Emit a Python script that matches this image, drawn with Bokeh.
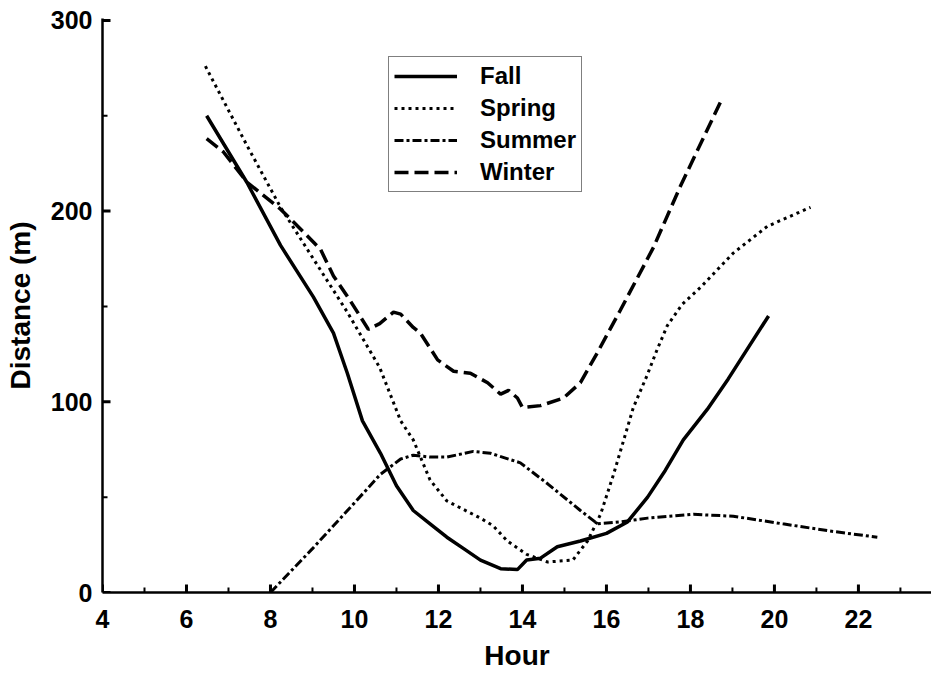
import math
from bokeh.plotting import figure
from bokeh.models import FixedTicker, Legend, LegendItem, Range1d
from bokeh.embed import file_html
from bokeh.resources import INLINE

# ---- data ----
fall_x = [6.48, 7.44, 8.24, 9.02, 9.5, 9.83, 10.19, 10.62, 11.0, 11.4, 11.8, 12.2, 12.6, 13.0,
          13.48, 13.88, 14.1, 14.43, 14.83, 15.38, 16.0, 16.5, 16.98, 17.4, 17.83, 18.4, 18.9, 19.86]
fall_y = [250, 215, 182, 155, 136, 115, 90, 73, 56, 43, 36, 29, 23, 17,
          12.5, 12, 17, 18, 24, 27, 31, 37, 50, 64, 80, 96, 112, 145]

spring_x = [6.45, 6.64, 7.45, 8.24, 9.02, 9.83, 10.6, 11.1, 11.4, 11.8, 12.2, 13.0, 13.3, 13.64,
            14.1, 14.6, 15.2, 15.55, 15.86, 16.17, 16.64, 16.97, 17.2, 17.45, 17.8, 18.24,
            19.02, 19.83, 20.86]
spring_y = [276, 268, 234, 202, 175, 147, 118, 90, 80, 59, 48, 39, 35, 27,
            20, 16, 17, 27, 41, 62, 97, 114, 127, 140, 151, 160,
            178, 192, 202]

summer_x = [8.0, 9.0, 10.0, 10.62, 11.1, 11.4, 11.8, 12.2, 12.83, 13.24, 13.95, 14.6, 15.38,
            15.79, 16.33, 16.98, 18.07, 19.02, 20.2, 21.4, 22.45]
summer_y = [0, 23, 47, 62, 70, 72, 71, 71, 74, 73, 68, 57, 43,
            36, 37, 39, 41, 40, 36, 32, 29]

winter_x = [6.48, 6.88, 7.45, 8.24, 8.79, 9.19, 9.5, 9.9, 10.33, 10.6, 10.93, 11.1, 11.4, 11.57,
            11.98, 12.36, 12.76, 13.17, 13.48, 13.67, 13.88, 14.0, 14.43, 14.98, 15.38, 15.79,
            16.33, 17.12, 17.76, 18.71]
winter_y = [238, 231, 215, 201, 189, 180, 166, 153, 138, 141, 147, 146, 139, 136,
            122, 116, 115, 110, 104, 106, 102, 97, 98, 102, 110, 126,
            148, 181, 213, 257]

x_ticks = [4, 6, 8, 10, 12, 14, 16, 18, 20, 22]
x_minor = [5, 7, 9, 11, 13, 15, 17, 19, 21, 23]
y_ticks = [0, 100, 200, 300]
y_minor = [50, 150, 250]

FONT = "Liberation Sans"
X0, Y0 = 4, 0

p = figure(width=931, height=673, output_backend="svg", toolbar_location=None,
           x_range=Range1d(X0, 23.74), y_range=Range1d(Y0, 301),
           min_border_left=102, min_border_right=0, min_border_top=18, min_border_bottom=81)
p.outline_line_color = None
p.xgrid.visible = False
p.ygrid.visible = False
p.background_fill_color = "white"
p.border_fill_color = "white"

r_fall = p.line(fall_x, fall_y, line_color="black", line_width=3.5)
r_spring = p.line(spring_x, spring_y, line_color="black", line_width=3, line_dash="3 4")
r_summer = p.line(summer_x, summer_y, line_color="black", line_width=3, line_dash="9 3 3 3")
r_winter = p.line(winter_x, winter_y, line_color="black", line_width=3.5, line_dash="14 6")

# inward tick marks (drawn at the tick positions, fixed pixel length)
p.ray(x=x_ticks, y=[Y0] * len(x_ticks), length=8, length_units="screen",
      angle=math.pi / 2, line_color="black", line_width=3)
p.ray(x=x_minor, y=[Y0] * len(x_minor), length=5, length_units="screen",
      angle=math.pi / 2, line_color="black", line_width=2)
p.ray(x=[X0] * len(y_ticks), y=y_ticks, length=8, length_units="screen",
      angle=0, line_color="black", line_width=3)
p.ray(x=[X0] * len(y_minor), y=y_minor, length=5, length_units="screen",
      angle=0, line_color="black", line_width=2)

for ax in (p.xaxis[0], p.yaxis[0]):
    ax.axis_line_color = "black"
    ax.axis_line_width = 2.5
    ax.major_tick_in = 0
    ax.major_tick_out = 0
    ax.minor_tick_in = 0
    ax.minor_tick_out = 0
    ax.major_tick_line_color = None
    ax.minor_tick_line_color = None
    ax.major_label_text_font = FONT
    ax.major_label_text_font_style = "bold"
    ax.major_label_text_font_size = "25px"
    ax.major_label_text_color = "black"
    ax.axis_label_text_font = FONT
    ax.axis_label_text_font_style = "bold"
    ax.axis_label_text_font_size = "28px"
    ax.axis_label_text_color = "black"

p.xaxis[0].ticker = FixedTicker(ticks=x_ticks, minor_ticks=x_minor)
p.yaxis[0].ticker = FixedTicker(ticks=y_ticks, minor_ticks=y_minor)
p.xaxis[0].major_label_standoff = 17
p.yaxis[0].major_label_standoff = 10
p.xaxis[0].axis_label = "Hour"
p.yaxis[0].axis_label = "Distance (m)"
p.xaxis[0].axis_label_standoff = 9
p.yaxis[0].axis_label_standoff = 12

legend = Legend(items=[
    LegendItem(label="Fall", renderers=[r_fall]),
    LegendItem(label="Spring", renderers=[r_spring]),
    LegendItem(label="Summer", renderers=[r_summer]),
    LegendItem(label="Winter", renderers=[r_winter]),
], location=(286, 400))
legend.label_text_font = FONT
legend.label_text_font_style = "bold"
legend.label_text_font_size = "24px"
legend.label_text_color = "black"
legend.glyph_width = 63
legend.glyph_height = 24
legend.label_height = 24
legend.label_standoff = 23
legend.spacing = 4
legend.padding = 5
legend.margin = 0
legend.border_line_color = "black"
legend.border_line_width = 1.5
legend.background_fill_color = "white"
legend.background_fill_alpha = 1.0
p.add_layout(legend)

open("out.html", "w").write(file_html(p, INLINE))
